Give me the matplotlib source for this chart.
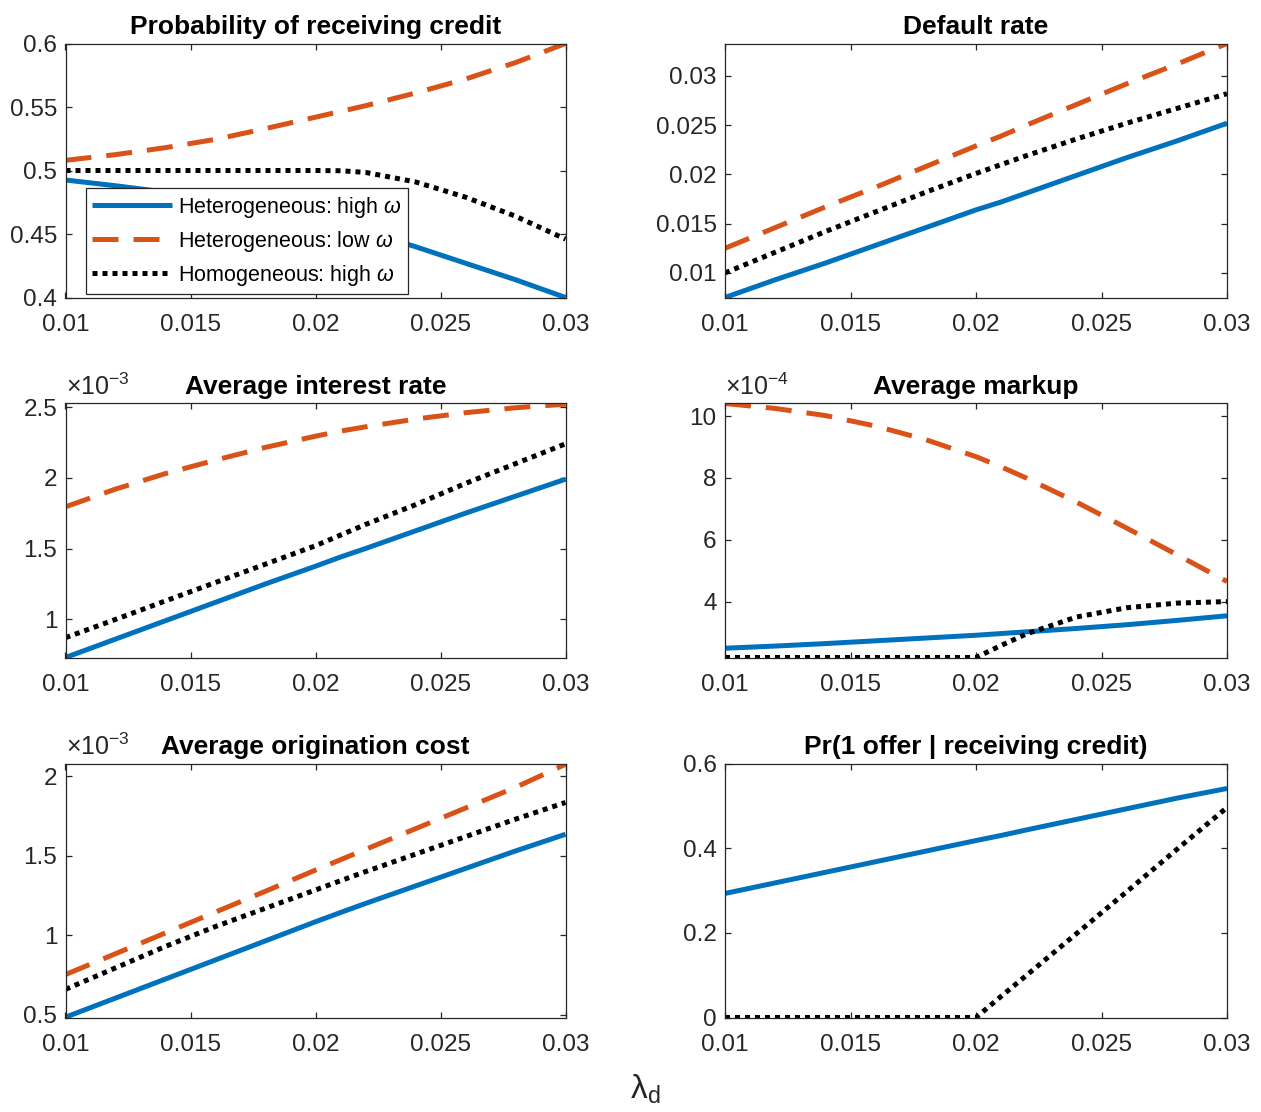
import matplotlib
matplotlib.use("Agg")
import matplotlib.pyplot as plt
from matplotlib import font_manager
from matplotlib.ticker import FuncFormatter, FixedLocator

names = {f.name for f in font_manager.fontManager.ttflist}
FONT = 'Liberation Sans Narrow' if 'Liberation Sans Narrow' in names else 'Liberation Sans'
plt.rcParams['font.family'] = [FONT, 'DejaVu Sans']
plt.rcParams['mathtext.fontset'] = 'custom'
plt.rcParams['mathtext.rm'] = FONT
plt.rcParams['mathtext.it'] = FONT + ':italic'

# ---------------- data ----------------
lam = [0.010, 0.012, 0.014, 0.016, 0.018, 0.020, 0.021, 0.022, 0.024, 0.026, 0.028, 0.030]

prob_high = [0.4925, 0.488, 0.483, 0.477, 0.470, 0.462, 0.457, 0.452, 0.440, 0.427, 0.414, 0.400]
prob_low = [0.508, 0.5125, 0.518, 0.5245, 0.533, 0.542, 0.5465, 0.551, 0.561, 0.572, 0.585, 0.600]
prob_hom = [0.500, 0.500, 0.500, 0.500, 0.500, 0.500, 0.4998, 0.4985, 0.491, 0.479, 0.464, 0.446]

def_high = [0.0075, 0.0093, 0.0110, 0.0128, 0.0146, 0.0164, 0.0172, 0.0181, 0.0199, 0.0217, 0.0234, 0.0252]
def_low = [0.0125, 0.0146, 0.0167, 0.0187, 0.0208, 0.0229, 0.0239, 0.0250, 0.0271, 0.0292, 0.0312, 0.0333]
def_hom = [0.0100, 0.0121, 0.0142, 0.0162, 0.0182, 0.0201, 0.0210, 0.0219, 0.0236, 0.0252, 0.0267, 0.0282]

int_high = [0.73e-3, 0.86e-3, 0.99e-3, 1.12e-3, 1.25e-3, 1.375e-3, 1.44e-3, 1.50e-3, 1.625e-3, 1.75e-3, 1.87e-3, 1.99e-3]
int_low = [1.795e-3, 1.92e-3, 2.03e-3, 2.125e-3, 2.215e-3, 2.294e-3, 2.33e-3, 2.36e-3, 2.415e-3, 2.46e-3, 2.495e-3, 2.52e-3]
int_hom = [0.87e-3, 0.999e-3, 1.13e-3, 1.26e-3, 1.39e-3, 1.52e-3, 1.595e-3, 1.67e-3, 1.81e-3, 1.96e-3, 2.10e-3, 2.24e-3]

mk_high = [2.49e-4, 2.56e-4, 2.64e-4, 2.73e-4, 2.82e-4, 2.91e-4, 2.965e-4, 3.02e-4, 3.13e-4, 3.25e-4, 3.39e-4, 3.54e-4]
mk_low = [10.41e-4, 10.25e-4, 10.02e-4, 9.68e-4, 9.24e-4, 8.69e-4, 8.36e-4, 8.00e-4, 7.22e-4, 6.38e-4, 5.52e-4, 4.65e-4]
mk_hom = [2.19e-4, 2.19e-4, 2.19e-4, 2.19e-4, 2.19e-4, 2.19e-4, 2.58e-4, 2.95e-4, 3.50e-4, 3.80e-4, 3.95e-4, 4.00e-4]

oc_high = [0.485e-3, 0.605e-3, 0.725e-3, 0.845e-3, 0.965e-3, 1.085e-3, 1.143e-3, 1.20e-3, 1.31e-3, 1.42e-3, 1.53e-3, 1.635e-3]
oc_low = [0.753e-3, 0.884e-3, 1.015e-3, 1.146e-3, 1.277e-3, 1.41e-3, 1.475e-3, 1.54e-3, 1.67e-3, 1.80e-3, 1.93e-3, 2.075e-3]
oc_hom = [0.66e-3, 0.795e-3, 0.93e-3, 1.055e-3, 1.17e-3, 1.285e-3, 1.343e-3, 1.40e-3, 1.51e-3, 1.62e-3, 1.73e-3, 1.835e-3]

off_high = [0.293, 0.318, 0.343, 0.368, 0.393, 0.418, 0.430, 0.443, 0.468, 0.493, 0.518, 0.541]
off_hom = [0.0, 0.0, 0.0, 0.0, 0.0, 0.0, 0.050, 0.099, 0.198, 0.297, 0.397, 0.496]

titles = ['Probability of receiving credit', 'Default rate', 'Average interest rate',
          'Average markup', 'Average origination cost', 'Pr(1 offer | receiving credit)']
legend_labels = [r'Heterogeneous: high $\omega$', r'Heterogeneous: low $\omega$',
                 r'Homogeneous: high $\omega$']
xticks = [0.01, 0.015, 0.02, 0.025, 0.03]

panels = [
    dict(h=prob_high, l=prob_low, m=prob_hom, ylim=(0.4, 0.6), yt=[0.4, 0.45, 0.5, 0.55, 0.6], scale=None),
    dict(h=def_high, l=def_low, m=def_hom, ylim=(0.0075, 0.0333), yt=[0.01, 0.015, 0.02, 0.025, 0.03], scale=None),
    dict(h=int_high, l=int_low, m=int_hom, ylim=(0.73e-3, 2.525e-3), yt=[1e-3, 1.5e-3, 2e-3, 2.5e-3], scale=-3),
    dict(h=mk_high, l=mk_low, m=mk_hom, ylim=(2.19e-4, 10.41e-4), yt=[4e-4, 6e-4, 8e-4, 10e-4], scale=-4),
    dict(h=oc_high, l=oc_low, m=oc_hom, ylim=(0.483e-3, 2.08e-3), yt=[0.5e-3, 1e-3, 1.5e-3, 2e-3], scale=-3),
    dict(h=off_high, l=None, m=off_hom, ylim=(0.0, 0.6), yt=[0, 0.2, 0.4, 0.6], scale=None),
]

BLUE = '#0072BD'
ORANGE = '#D95319'
AX = '#262626'
LW = 3.6

W, H = 1261, 1112
fig = plt.figure(figsize=(W / 100, H / 100), dpi=100)
cols = [(65.5, 565.5), (725, 1227)]
rows = [(43.5, 297.5), (403.5, 657.5), (763.5, 1017.5)]

TICKFS = 17.5
for i, p in enumerate(panels):
    r, c = divmod(i, 2)
    x0, x1 = cols[c]
    y0, y1 = rows[r]
    ax = fig.add_axes([x0 / W, 1 - y1 / H, (x1 - x0) / W, (y1 - y0) / H])
    hl, = ax.plot(lam, p['h'], color=BLUE, lw=LW, solid_capstyle='butt')
    handles = [hl]
    if p['l'] is not None:
        ll, = ax.plot(lam, p['l'], color=ORANGE, lw=LW, linestyle=(0, (5.2, 3)), dash_capstyle='butt')
        handles.append(ll)
    ml, = ax.plot(lam, p['m'], color='black', lw=LW, linestyle=(0, (1, 1)), dash_capstyle='butt')
    handles.append(ml)
    ax.set_xlim(0.01, 0.03)
    ax.set_ylim(*p['ylim'])
    ax.xaxis.set_major_locator(FixedLocator(xticks))
    ax.yaxis.set_major_locator(FixedLocator(p['yt']))
    ax.xaxis.set_major_formatter(FuncFormatter(lambda v, pos: '%g' % round(v, 6)))
    if p['scale'] is None:
        ax.yaxis.set_major_formatter(FuncFormatter(lambda v, pos: '%g' % round(v, 6)))
    else:
        s = p['scale']
        ax.yaxis.set_major_formatter(FuncFormatter(lambda v, pos, s=s: '%g' % round(v / 10.0 ** s, 6)))
        ax.text(0.0, 1.015, r'$\times\mathregular{10^{-%d}}$' % (-s), transform=ax.transAxes,
                fontsize=TICKFS + 0.5, color=AX, ha='left', va='bottom')
    ax.tick_params(direction='in', top=True, right=True, length=4, width=0.9, colors=AX,
                   labelsize=TICKFS)
    ax.tick_params(axis='x', pad=12)
    ax.tick_params(axis='y', pad=6)
    for sp in ax.spines.values():
        sp.set_color(AX)
        sp.set_linewidth(0.9)
    ax.set_title(titles[i], fontsize=19, fontweight='bold', pad=7)
    if i == 0:
        leg = ax.legend(handles, legend_labels, loc='upper left', bbox_to_anchor=(0.04, 0.43),
                        fontsize=15.5, handlelength=3.7, handletextpad=0.3, labelspacing=0.42,
                        borderpad=0.3, borderaxespad=0.0, fancybox=False, framealpha=1)
        leg.get_frame().set_edgecolor(AX)
        leg.get_frame().set_linewidth(0.9)

fig.text(0.512, 0.012, r'$\mathregular{\lambda_d}$', fontsize=24, color=AX, ha='center', va='baseline')

fig.savefig('out.png', dpi=100)
